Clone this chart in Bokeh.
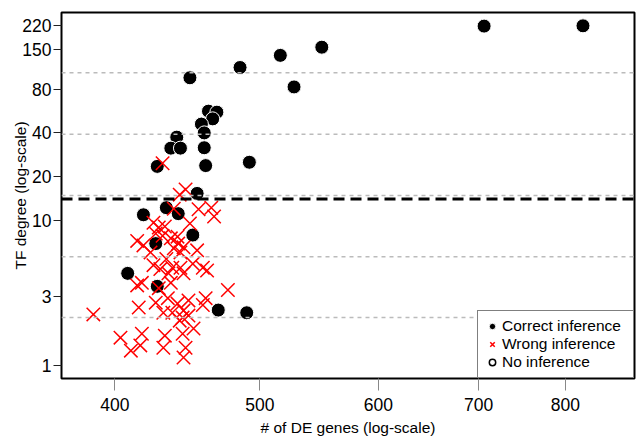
from bokeh.plotting import figure
from bokeh.models import FixedTicker, PrintfTickFormatter, Span, Legend, LegendItem, ColumnDataSource, Range1d
from bokeh.embed import file_html
from bokeh.resources import INLINE

# ---- data ----
correct_x = [706, 822, 449, 485, 516, 550, 527, 462, 468, 465, 457, 459, 440, 436, 442.5,
             459, 427, 460, 492, 454, 418, 433, 441, 451, 426, 408, 427, 469, 490]
correct_y = [218, 219, 96, 113, 137, 156, 83, 56.5, 55.6, 50, 46, 40, 37.4, 31.4, 31.4,
             31.6, 23.5, 23.8, 25.1, 15.3, 10.9, 12.2, 11.1, 7.9, 6.9, 4.3, 3.5, 2.4, 2.3]

wrong_x = [430.5, 446, 442, 438, 455, 464, 466, 424.5, 428, 449, 432, 414, 418, 426, 430.5,
           436, 440.5, 441, 438, 444.6, 442.5, 454, 422.6, 424.5, 429, 437, 442.5, 444.6, 451,
           458, 461, 434.4, 433, 417, 414, 428, 436, 476, 415, 426, 434, 431, 437, 440.5,
           444.6, 448, 444, 448, 460, 458, 387, 403.5, 410, 417, 416, 432, 431, 444, 446,
           444.6, 451.5, 442]
wrong_y = [24.7, 16.3, 15.0, 12.0, 11.9, 12.2, 10.6, 9.6, 8.9, 9.5, 9.05, 7.2, 6.7, 8.1, 7.8,
           7.5, 7.7, 6.9, 6.4, 6.5, 6.0, 6.2, 6.0, 4.9, 4.6, 4.7, 4.7, 4.3, 5.0,
           4.7, 4.5, 4.3, 5.4, 3.7, 3.55, 3.4, 3.7, 3.3, 2.5, 2.7, 2.9, 2.3, 2.3, 2.66,
           2.38, 2.8, 2.13, 2.2, 2.9, 2.6, 2.24, 1.55, 1.26, 1.65, 1.37, 1.6, 1.32, 1.65, 1.32,
           1.13, 1.79, 2.03]

# no TF falls in this class (placeholder only, so the legend can show its symbol)
none_x = [float("nan")]
none_y = [float("nan")]

quantile_lines = [2.13, 5.6, 14.8, 39.2, 104]
threshold = 14.0

x_ticks = [400, 500, 600, 700, 800]
y_ticks = [1, 3, 10, 20, 40, 80, 150, 220]

FONT = "Liberation Sans"

p = figure(width=636, height=439, x_axis_type="log", y_axis_type="log",
           x_range=Range1d(368.5, 889.8), y_range=Range1d(0.81, 270.6),
           output_backend="svg", toolbar_location=None,
           min_border_left=61, min_border_right=2, min_border_top=12, min_border_bottom=61)

p.grid.visible = False
p.outline_line_color = "black"
p.outline_line_width = 2
p.background_fill_color = "white"
p.border_fill_color = "white"

for ax in (p.xaxis[0], p.yaxis[0]):
    ax.axis_line_color = None
    ax.major_tick_in = 0
    ax.minor_tick_line_color = None
    ax.major_label_text_font = FONT
    ax.major_label_text_font_size = "17.5px"
    ax.major_label_text_color = "black"
    ax.axis_label_text_font = FONT
    ax.axis_label_text_font_size = "15.5px"
    ax.axis_label_text_font_style = "normal"
    ax.axis_label_text_color = "black"
    ax.formatter = PrintfTickFormatter(format="%d")

p.xaxis.ticker = FixedTicker(ticks=x_ticks)
p.yaxis.ticker = FixedTicker(ticks=y_ticks)
p.xaxis.major_tick_out = 12
p.xaxis.major_tick_line_color = "#888888"
p.xaxis.major_label_standoff = 7
p.xaxis.axis_label = "# of DE genes (log-scale)"
p.xaxis.axis_label_standoff = 5
p.yaxis.major_tick_out = 8
p.yaxis.major_tick_line_color = "#222222"
p.yaxis.major_label_standoff = 2
p.yaxis.major_label_orientation = "horizontal"
p.yaxis.axis_label = "TF degree (log-scale)"
p.yaxis.axis_label_standoff = -10

for q in quantile_lines:
    p.add_layout(Span(location=q, dimension="width", line_color="#BBBBBB",
                      line_width=1.5, line_dash="4 4"))
p.add_layout(Span(location=threshold, dimension="width", line_color="black",
                  line_width=3, line_dash="11 6"))

r_correct = p.scatter(correct_x, correct_y, marker="circle", size=14,
                      fill_color="black", line_color="white", line_width=1)
r_wrong = p.scatter(wrong_x, wrong_y, marker="x", size=19, line_color="#FF0000", line_width=1.5)
r_none = p.scatter(x="x", y="y", source=ColumnDataSource(dict(x=none_x, y=none_y)),
                   marker="circle", size=13, fill_color=None, line_color="black", line_width=1.5)

legend = Legend(items=[LegendItem(label="Correct inference", renderers=[r_correct]),
                       LegendItem(label="Wrong inference", renderers=[r_wrong]),
                       LegendItem(label="No inference", renderers=[r_none])],
                location="bottom_right")
legend.margin = 0
legend.padding = 6
legend.spacing = 0
legend.glyph_width = 16
legend.glyph_height = 16
legend.label_height = 16
legend.label_width = 125
legend.label_standoff = 2
legend.label_text_font = FONT
legend.label_text_font_size = "15.5px"
legend.label_text_color = "black"
legend.border_line_color = "black"
legend.border_line_width = 1.5
legend.background_fill_alpha = 1
p.add_layout(legend)

open("out.html", "w").write(file_html(p, INLINE))
